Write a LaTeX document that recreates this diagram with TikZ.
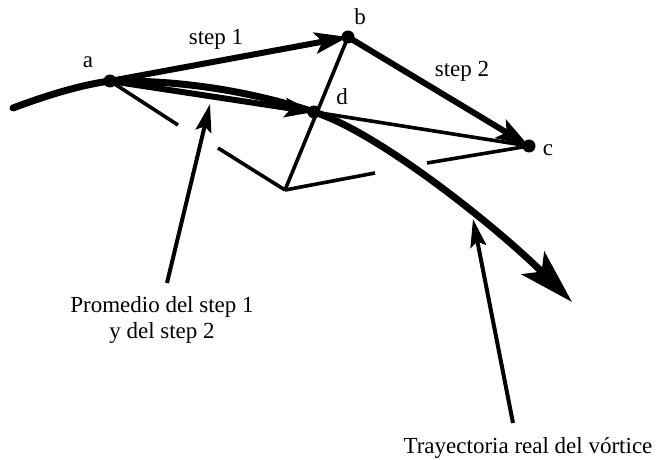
\documentclass[tikz,border=0pt]{standalone}
\usepackage{fontspec}
\setmainfont{Liberation Serif}
\usetikzlibrary{arrows.meta}
\begin{document}
\begin{tikzpicture}[x=1pt,y=-1pt,
  dot/.style={circle,fill=black,inner sep=0pt,minimum size=13pt},
  lbl/.style={font=\fontsize{23}{26}\selectfont,anchor=base,inner sep=0pt,align=center},
  track/.style={line width=7pt,line cap=round},
  stepline/.style={line width=6pt},
  guide/.style={line width=3.6pt},
  pointer/.style={line width=4pt,-{Stealth[length=28pt,width=16pt,inset=5pt]}},
]
\useasboundingbox (0,0) rectangle (657,460);

% points of the scheme
\node[dot] (a) at (110,81) {};
\node[dot] (b) at (348,37) {};
\node[dot] (c) at (529,146) {};
\node[dot] (d) at (314,112) {};
\coordinate (s) at (13,108);
\coordinate (tipT) at (572,302);
\coordinate (e) at (285,190);
\coordinate (el) at (218,148);
\coordinate (er) at (375,173);
\coordinate (ad) at (178,125);
\coordinate (cl) at (427,163);

% construction lines
\draw[guide] (b.center) -- (e);
\draw[guide] (e) -- (el);
\draw[guide] (e) -- (er);
\draw[guide] (a.center) -- (ad);
\draw[guide] (c.center) -- (cl);
\draw[guide] (d.center) -- (c.center);

% real trajectory
\draw[track,-{Stealth[length=55pt,width=32pt,inset=12pt]}]
  (s) .. controls (45,96) and (80,85) .. (a.center)
      .. controls (180,80) and (250,91) .. (d.center)
      .. controls (380,133) and (500,230) .. (tipT);

% steps
\draw[stepline,-{Stealth[length=33pt,width=21pt,inset=7pt]}] (a.center) -- (b.center);
\draw[stepline,-{Stealth[length=33pt,width=21pt,inset=7pt]}] (b.center) -- (c.center);
\draw[line width=6pt,-{Stealth[length=29pt,width=19pt,inset=6pt]}] (a.center) -- (d.center);

% labels
\node[lbl] (la) at (88,68) {a};
\node[lbl] (lb) at (360,25) {b};
\node[lbl] (lc) at (548,155) {c};
\node[lbl] (ld) at (342,105) {d};
\node[lbl] (ls1) at (216,45) {step 1};
\node[lbl] (ls2) at (462,77) {step 2};
\node[lbl] (lprom) at (162,338) {Promedio del step 1\\y del step 2};
\node[lbl] (ltray) at (528,453) {Trayectoria real del vórtice};

% pointers
\coordinate (p1) at (167,283);
\coordinate (p1t) at (210,104);
\coordinate (p2) at (513,423);
\coordinate (p2t) at (473,219);
\draw[pointer] (p1) -- (p1t);
\draw[pointer] (p2) -- (p2t);
\end{tikzpicture}
\end{document}
